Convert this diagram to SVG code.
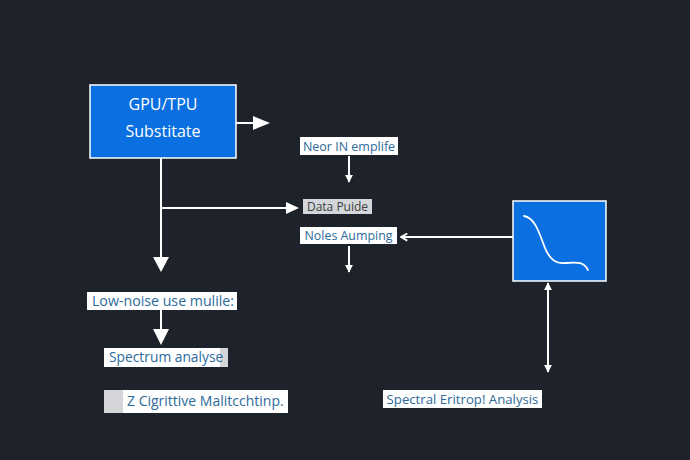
<svg xmlns="http://www.w3.org/2000/svg" width="690" height="460" viewBox="0 0 690 460">
<defs>
<style>
.lbl{font-family:"Open Sans","Noto Sans","Liberation Sans",sans-serif;font-size:13px;fill:#2d6a9a}
.wbox{fill:#ffffff}
.gbox{fill:#d4d6d9}
.line{stroke:#ffffff;stroke-width:2;fill:none}
.head{fill:#ffffff}
</style>
<marker id="sm" viewBox="0 0 10 10" refX="9" refY="5" markerWidth="8" markerHeight="8" markerUnits="userSpaceOnUse" orient="auto-start-reverse">
<path d="M0,0 L10,5 L0,10 Z" fill="#ffffff"/>
</marker>
<marker id="chev" viewBox="0 0 10 10" refX="9" refY="5" markerWidth="9" markerHeight="9" markerUnits="userSpaceOnUse" orient="auto">
<path d="M2,1 L9,5 L2,9" fill="none" stroke="#ffffff" stroke-width="2"/>
</marker>
</defs>
<rect width="690" height="460" fill="#1e232b"/>

<g id="connectors">
<line class="line" x1="236" y1="123" x2="256" y2="123"/>
<path class="head" d="M253,116 L270,123 L253,130 Z"/>
<line class="line" x1="161" y1="158" x2="161" y2="258"/>
<path class="head" d="M153,257 L161,272 L169,257 Z"/>
<line class="line" x1="161" y1="208" x2="288" y2="208"/>
<path class="head" d="M286,202 L299,208 L286,214 Z"/>
<line class="line" x1="349" y1="156" x2="349" y2="182" marker-end="url(#sm)"/>
<line class="line" x1="349" y1="246" x2="349" y2="272" marker-end="url(#sm)"/>
<line class="line" x1="513" y1="237" x2="401" y2="237" marker-end="url(#chev)"/>
<line class="line" x1="548" y1="283" x2="548" y2="372" marker-start="url(#sm)" marker-end="url(#sm)"/>
<line class="line" x1="161" y1="310" x2="161" y2="331"/>
<path class="head" d="M153,329 L161,345 L169,329 Z"/>
</g>

<g id="gpu">
<rect x="90" y="85" width="146" height="73" fill="#0a6fe0" stroke="#ffffff" stroke-width="1.5"/>
<text x="163" y="110" text-anchor="middle" font-family="'Open Sans','Noto Sans',sans-serif" font-size="16" fill="#ffffff">GPU/TPU</text>
<text x="163" y="137" text-anchor="middle" font-family="'Open Sans','Noto Sans',sans-serif" font-size="16" fill="#ffffff">Substitate</text>
</g>

<g id="neor">
<rect class="wbox" x="300" y="137" width="98" height="18"/>
<text class="lbl" x="349" y="151" text-anchor="middle" font-size="12.5" style="font-size:12.5px">Neor IN emplife</text>
</g>

<g id="data">
<rect class="gbox" x="303" y="199" width="69" height="15"/>
<text class="lbl" x="337.5" y="211" text-anchor="middle" style="fill:#3a3f45;font-size:12px">Data Puide</text>
</g>

<g id="noles">
<rect class="wbox" x="300" y="227" width="97" height="17"/>
<text class="lbl" x="348.5" y="240" text-anchor="middle" style="font-size:12.4px">Noles Aumping</text>
</g>

<g id="wave">
<rect x="513" y="201" width="93" height="80" fill="#0a6fe0" stroke="#ffffff" stroke-width="1.5"/>
<path d="M524,216 C536,218 540,236 545,248 C550,260 556,264 566,263 C578,262 584,262 588,270" fill="none" stroke="#ffffff" stroke-width="1.8" stroke-linecap="round"/>
</g>

<g id="lownoise">
<rect class="wbox" x="87" y="292" width="150" height="18"/>
<text class="lbl" x="163" y="306" text-anchor="middle" style="font-size:14.2px">Low-noise use mulile:</text>
</g>

<g id="spectrum">
<rect class="wbox" x="104" y="348" width="124" height="19"/>
<rect class="gbox" x="220" y="348" width="8" height="19"/>
<text class="lbl" x="109" y="362" style="font-size:13.8px">Spectrum analyse</text>
</g>

<g id="cigrittive">
<rect class="wbox" x="104" y="390" width="184" height="23"/>
<rect class="gbox" x="104" y="390" width="19" height="23"/>
<text class="lbl" x="127" y="406" style="font-size:14px">Z Cigrittive Malitcchtinp.</text>
</g>

<g id="spectral">
<rect class="wbox" x="383" y="390" width="159" height="18"/>
<text class="lbl" x="462.5" y="404" text-anchor="middle" style="font-size:13.2px">Spectral Eritrop! Analysis</text>
</g>
</svg>
